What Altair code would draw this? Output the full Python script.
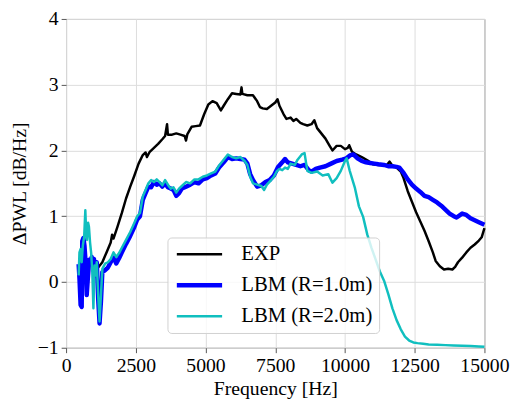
import altair as alt
import pandas as pd

exp_f = [1150, 1300, 1450, 1600, 1650, 1700, 1850, 2000, 2150, 2300, 2450, 2600, 2750, 2850, 2900,
         3000, 3150, 3300, 3450, 3550, 3620, 3650, 3800, 3950, 4100, 4250, 4300, 4350, 4500, 4650,
         4800, 4950, 5100, 5250, 5400, 5550, 5650, 5800, 5950, 6100, 6250, 6290, 6320, 6500, 6700,
         6850, 6950, 7050, 7200, 7350, 7500, 7580, 7650, 7800, 7900, 8050, 8150, 8250, 8400, 8500,
         8650, 8800, 8900, 9000, 9150, 9300, 9450, 9550, 9700, 9850, 10000, 10100, 10150, 10250,
         10400, 10600, 10800, 11000, 11200, 11350, 11500, 11600, 11700, 11850, 12000, 12100, 12250,
         12400, 12550, 12700, 12850, 13000, 13150, 13250, 13400, 13550, 13700, 13850, 13950, 14050,
         14200, 14350, 14500, 14650, 14800, 14900, 15000]
exp_v = [0.22, 0.30, 0.45, 0.60, 0.72, 0.66, 0.85, 1.05, 1.27, 1.45, 1.62, 1.80, 1.93, 1.97, 1.90,
         1.98, 2.04, 2.10, 2.17, 2.22, 2.40, 2.24, 2.24, 2.26, 2.24, 2.22, 2.15, 2.25, 2.36, 2.37,
         2.38, 2.55, 2.70, 2.75, 2.72, 2.61, 2.68, 2.78, 2.87, 2.86, 2.85, 2.96, 2.86, 2.84, 2.84,
         2.75, 2.66, 2.64, 2.63, 2.68, 2.73, 2.78, 2.68, 2.55, 2.48, 2.50, 2.45, 2.48, 2.42, 2.40,
         2.38, 2.40, 2.46, 2.34, 2.26, 2.18, 2.07, 2.00, 2.07, 2.07, 2.02, 2.04, 2.08, 1.98,
         1.94, 1.90, 1.85, 1.79, 1.78, 1.78, 1.78, 1.83, 1.77, 1.74, 1.68, 1.58, 1.38,
         1.22, 1.06, 0.92, 0.78, 0.62, 0.45, 0.32, 0.24, 0.19, 0.20, 0.19, 0.23, 0.30,
         0.37, 0.45, 0.52, 0.57, 0.63, 0.68, 0.82]

r1_f = [450, 480, 520, 560, 580, 620, 660, 700, 740, 780, 830, 870, 920, 960, 1000, 1050, 1100,
        1150, 1200, 1250, 1300, 1400, 1500, 1600, 1700, 1800, 1900, 2000, 2150, 2300, 2450, 2550,
        2650, 2750, 2850, 2950, 3050, 3150, 3250, 3350, 3450, 3550, 3650, 3750, 3850, 3950, 4050,
        4150, 4300, 4450, 4600, 4750, 4900, 5050, 5200, 5350, 5500, 5650, 5800, 5950, 6100, 6250,
        6400, 6500, 6600, 6700, 6850, 7000, 7150, 7300, 7450, 7600, 7750, 7850, 7950, 8100, 8250,
        8400, 8550, 8700, 8800, 8950, 9100, 9300, 9500, 9700, 9900, 10050, 10200, 10300, 10450,
        10600, 10750, 10900, 11050, 11200, 11400, 11550, 11700, 11850, 11950, 12100, 12250, 12400,
        12550, 12700, 12850, 13000, 13150, 13300, 13450, 13600, 13750, 13900, 14000, 14200, 14350,
        14500, 14650, 14800, 15000]
r1_v = [0.27, 0.05, -0.35, -0.38, 0.62, 0.67, 0.55, 0.30, -0.20, 0.05, 0.34, 0.30, 0.38, 0.25, 0.35,
        0.10, 0.30,
        -0.25, -0.63, -0.30, 0.15, 0.18, 0.22, 0.30, 0.38, 0.28, 0.36, 0.45, 0.58, 0.70, 0.84, 0.95,
        1.00, 1.25, 1.35, 1.45, 1.44, 1.52, 1.48, 1.50, 1.45, 1.50, 1.44, 1.42, 1.40, 1.31, 1.35,
        1.42, 1.45, 1.48, 1.52, 1.50, 1.56, 1.58, 1.62, 1.65, 1.75, 1.82, 1.90, 1.87, 1.88, 1.87,
        1.86, 1.80, 1.64, 1.55, 1.45, 1.47, 1.52, 1.55, 1.62, 1.75, 1.82, 1.87, 1.82, 1.80, 1.78,
        1.76, 1.78, 1.70, 1.68, 1.72, 1.74, 1.76, 1.80, 1.84, 1.86, 1.88, 1.93, 1.94, 1.88,
        1.84, 1.82, 1.81, 1.80, 1.79, 1.78, 1.76, 1.76, 1.75, 1.74, 1.66, 1.56, 1.48,
        1.42, 1.37, 1.31, 1.29, 1.25, 1.21, 1.16, 1.10, 1.04, 1.00, 0.98, 1.04, 1.02,
        0.97, 0.94, 0.91, 0.87]

r2_f = [450, 480, 520, 560, 600, 650, 690, 720, 750, 790, 820, 860, 900, 940, 980, 1020, 1060, 1100,
        1150, 1200, 1250, 1300, 1400, 1500, 1600, 1700, 1800, 1900, 2000, 2150, 2300, 2450, 2550,
        2650, 2750, 2850, 2950, 3050, 3150, 3250, 3350, 3450, 3550, 3650, 3750, 3850, 3950, 4050,
        4150, 4300, 4450, 4600, 4750, 4900, 5050, 5200, 5350, 5500, 5650, 5800, 5950, 6100, 6250,
        6400, 6500, 6600, 6700, 6850, 7000, 7100, 7200, 7350, 7450, 7550, 7650, 7750, 7850, 7950,
        8050, 8200, 8300, 8450, 8550, 8650, 8800, 9000, 9200, 9400, 9550, 9700, 9850, 10000,
        10060, 10170, 10350, 10500, 10650, 10800, 10950, 11100, 11250, 11400, 11550, 11700, 11850,
        12000, 12150, 12300, 12450, 12600, 12800, 13000, 13300, 13600, 13900, 14200, 14500, 14800,
        15000]
r2_v = [0.10, 0.45, 0.50, 0.30, 0.55, 0.70, 1.09, 0.75, 0.64, 0.90, 0.84, 0.60, 0.44, 0.15, -0.40,
        0.25, 0.10, 0.30,
        -0.20, -0.60, -0.20, 0.20, 0.28, 0.30, 0.35, 0.45, 0.38, 0.44, 0.52, 0.64, 0.76, 0.90, 1.00,
        1.05, 1.30, 1.40, 1.50, 1.55, 1.52, 1.56, 1.52, 1.47, 1.55, 1.48, 1.42, 1.44, 1.36, 1.42,
        1.46, 1.52, 1.50, 1.56, 1.56, 1.60, 1.62, 1.65, 1.68, 1.78, 1.86, 1.94, 1.90, 1.88, 1.90,
        1.84, 1.78, 1.60, 1.50, 1.48, 1.46, 1.40, 1.48, 1.55, 1.60, 1.68, 1.72, 1.70, 1.74, 1.72,
        1.80, 1.78, 1.86, 1.94, 1.96, 1.69, 1.66, 1.68, 1.62, 1.64, 1.51, 1.58, 1.69, 1.84,
        1.88, 1.69, 1.44, 1.15, 0.99, 0.72, 0.52, 0.34, 0.16, 0.02, -0.18, -0.40, -0.58,
        -0.72, -0.83, -0.89, -0.92, -0.93, -0.94, -0.95, -0.955, -0.96, -0.965, -0.97, -0.975, -0.98,
        -0.985]

names = ["EXP", "LBM (R=1.0m)", "LBM (R=2.0m)"]
colors = ["#000000", "#0000ff", "#10bfbf"]
widths = [2.5, 4.5, 2.5]

rows = []
for name, fs, vs in zip(names, [exp_f, r1_f, r2_f], [exp_v, r1_v, r2_v]):
    for f, v in zip(fs, vs):
        rows.append({"series": name, "freq": f, "val": v})
df = pd.DataFrame(rows)

FONT = "Liberation Serif"

leg = dict(orient="none", legendX=103, legendY=222,
           symbolType="stroke", symbolSize=2116, symbolOffset=1,
           clipHeight=22,
           labelFontSize=21, labelFont=FONT, labelOffset=17,
           rowPadding=9.5, padding=6,
           fillColor="rgba(255,255,255,0.8)", strokeColor="#d0d0d0",
           cornerRadius=4, labelColor="#000")

base = alt.Chart(df).encode(
    x=alt.X("freq:Q", title="Frequency [Hz]",
            scale=alt.Scale(domain=[0, 15000], nice=False, zero=False),
            axis=alt.Axis(values=[0, 2500, 5000, 7500, 10000, 12500, 15000], format="d",
                          labelFlush=False, titlePadding=4)),
    y=alt.Y("val:Q", title="ΔPWL [dB/Hz]",
            scale=alt.Scale(domain=[-1, 4], nice=False, zero=False),
            axis=alt.Axis(values=[-1, 0, 1, 2, 3, 4], labelFlush=False, titlePadding=8)),
    color=alt.Color("series:N", title=None,
                    scale=alt.Scale(domain=names, range=colors),
                    legend=alt.Legend(**leg)),
    strokeWidth=alt.StrokeWidth("series:N", title=None,
                                scale=alt.Scale(type="ordinal", domain=names, range=widths),
                                legend=alt.Legend(**leg)),
)

layers = [base.transform_filter(alt.datum.series == n).mark_line(strokeJoin="round")
          for n in names]

chart = alt.layer(*layers).properties(
    width=425, height=334,
    autosize=alt.AutoSizeParams(type="none"),
    padding={"left": 59, "top": 8, "right": 29, "bottom": 53},
).configure_view(
    stroke="#808080", strokeWidth=1
).configure_axis(
    labelFont=FONT, titleFont=FONT, labelFontSize=20, titleFontSize=20,
    labelColor="#000", titleColor="#000", titleFontWeight="normal",
    gridColor="#dcdcdc", gridWidth=1, domain=False,
    tickColor="#555", tickSize=5, labelPadding=3,
)

chart.save("out.html", embed_options={"renderer": "svg", "actions": False})
